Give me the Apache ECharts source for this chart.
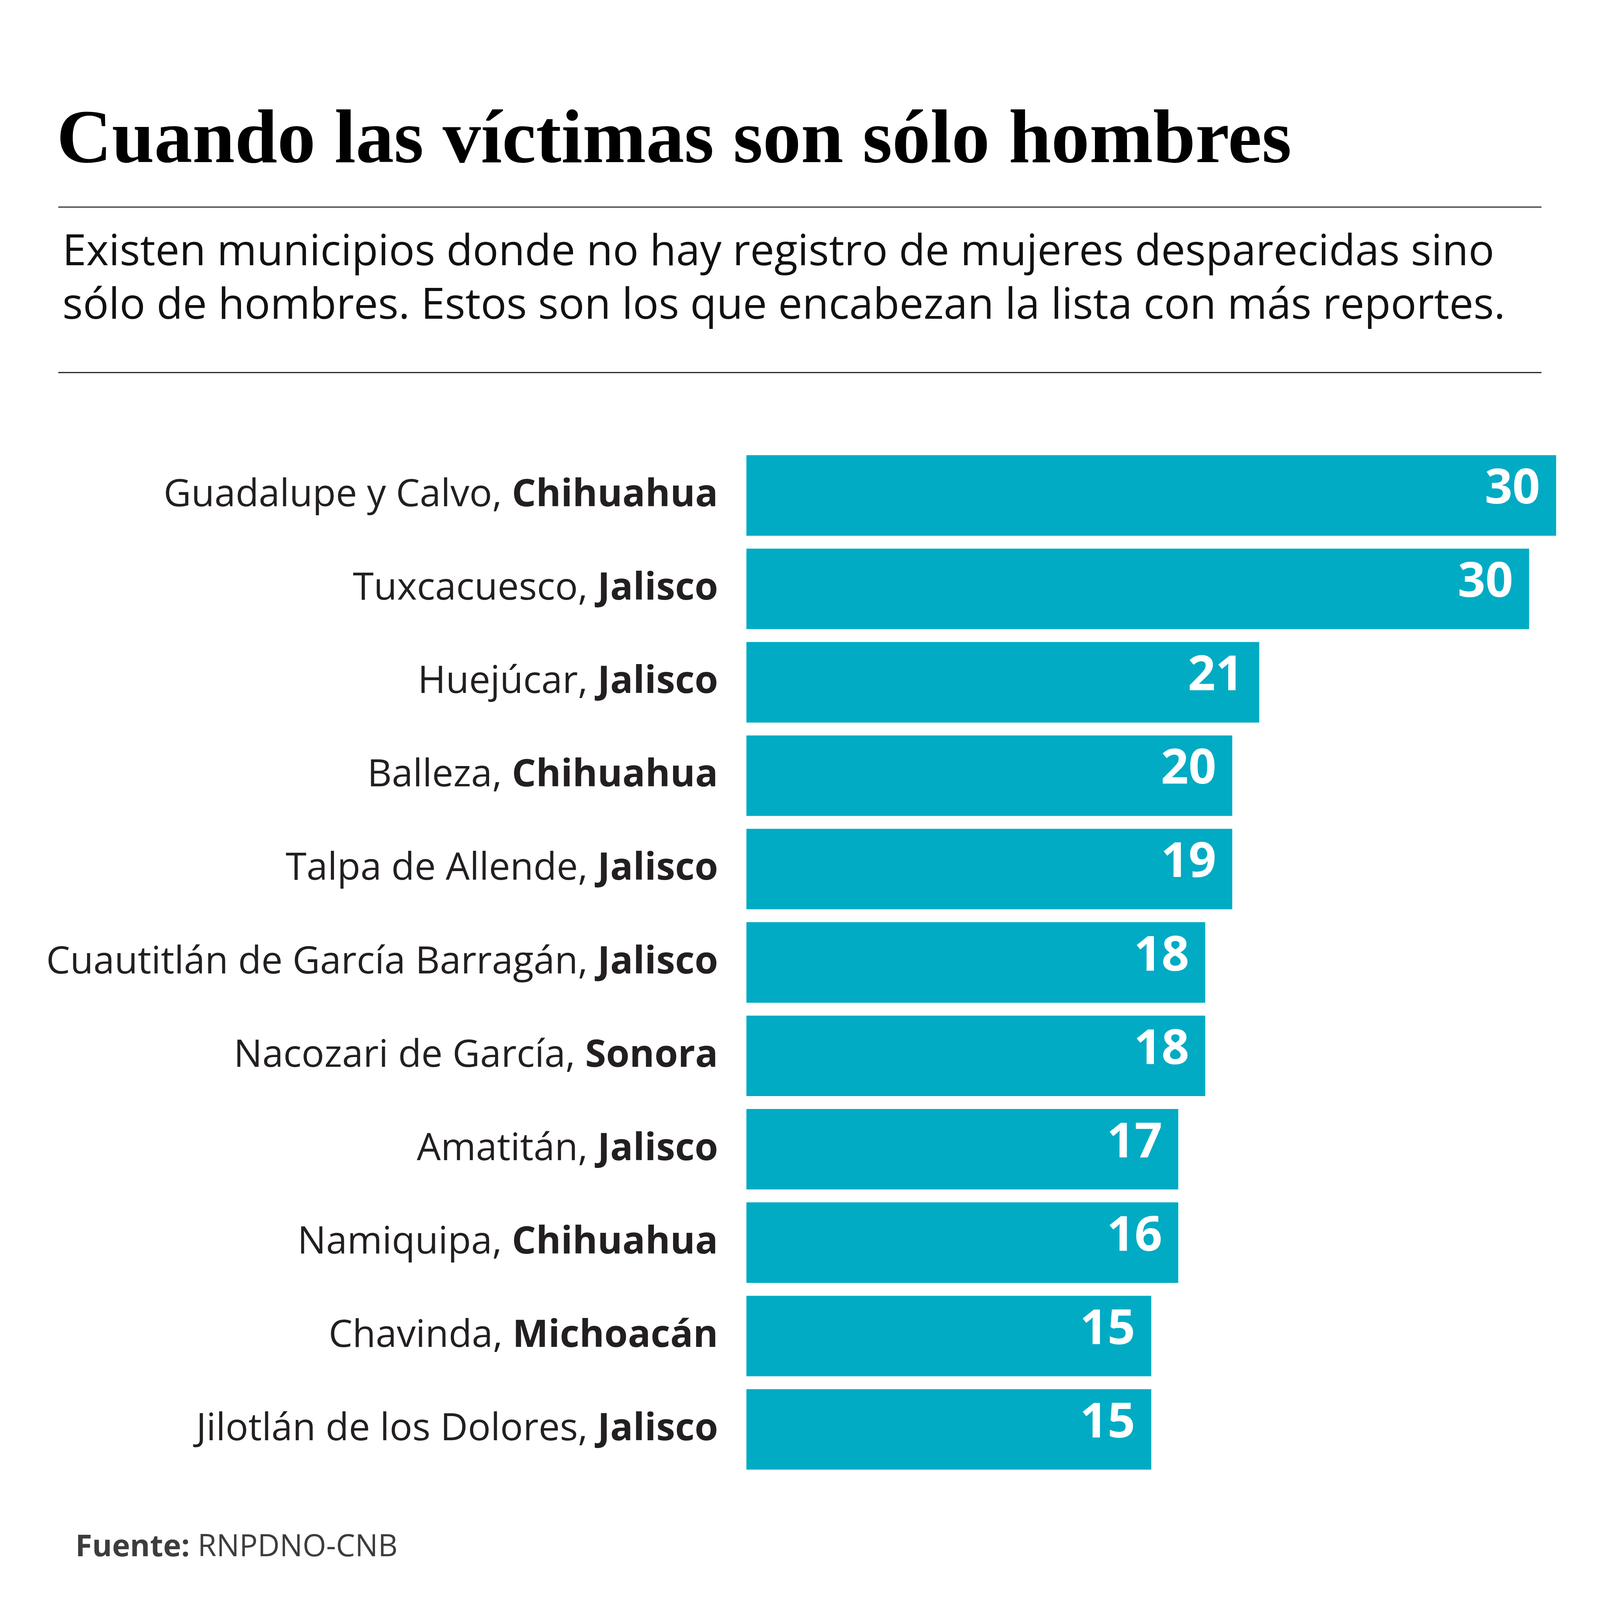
<!DOCTYPE html>
<html>
<head>
<meta charset="utf-8">
<script src="https://cdn.jsdelivr.net/npm/echarts@6/dist/echarts.min.js"></script>
<style>
  html, body { margin: 0; padding: 0; background: #fff; overflow: hidden; }
  #chart { width: 100vw; height: 100vh; }
</style>
</head>
<body>
<div id="chart"></div>
<script>
// municipios con registros sólo de hombres
var municipios = ['Guadalupe y Calvo', 'Tuxcacuesco', 'Huejúcar', 'Balleza', 'Talpa de Allende',
    'Cuautitlán de García Barragán', 'Nacozari de García', 'Amatitán', 'Namiquipa', 'Chavinda',
    'Jilotlán de los Dolores'];
var estados = ['Chihuahua', 'Jalisco', 'Jalisco', 'Chihuahua', 'Jalisco',
    'Jalisco', 'Sonora', 'Jalisco', 'Chihuahua', 'Michoacán', 'Jalisco'];
// cifras impresas en las barras
var reportes = [30, 30, 21, 20, 19, 18, 18, 17, 16, 15, 15];
// largo de barra tal como está dibujado en la gráfica
var largos = [30, 29, 19, 18, 18, 17, 17, 16, 16, 15, 15];

var titulo = 'Cuando las víctimas son sólo hombres';
var bajada = ['Existen municipios donde no hay registro de mujeres desparecidas sino',
    'sólo de hombres. Estos son los que encabezan la lista con más reportes.'];
var fuente = 'RNPDNO-CNB';

var chart = echarts.init(document.getElementById('chart'));

// todo se mide sobre un lienzo de 7001 px de ancho
function build() {
    var s = chart.getWidth() / 7001;
    var sy = chart.getHeight() / 7077;
    function px(v) { return v * s; }
    function py(v) { return v * sy; }

    var categorias = municipios.map(function (m, i) { return m + '|' + estados[i]; });

    var option = {
        backgroundColor: '#ffffff',
        animation: false,
        grid: {
            left: px(3266),
            right: px(192),
            top: py(1985),
            bottom: py(548),
            containLabel: false
        },
        xAxis: {
            type: 'value',
            min: 0,
            max: 30,
            show: false
        },
        yAxis: {
            type: 'category',
            inverse: true,
            data: categorias,
            axisLine: { show: false },
            axisTick: { show: false },
            splitLine: { show: false },
            axisLabel: {
                margin: px(124),
                formatter: function (v) {
                    var p = v.split('|');
                    return '{r|' + p[0] + ', }{b|' + p[1] + '}';
                },
                rich: {
                    r: { fontFamily: 'Open Sans', fontSize: px(166), color: '#231f20' },
                    b: { fontFamily: 'Open Sans', fontSize: px(166), fontWeight: 'bold', color: '#231f20' }
                }
            }
        },
        series: [
            {
                type: 'bar',
                data: largos,
                barCategoryGap: '13.8%',
                itemStyle: { color: '#01abc4' },
                label: {
                    show: true,
                    position: 'insideRight',
                    distance: px(70),
                    offset: [0, -px(25)],
                    formatter: function (p) { return reportes[p.dataIndex]; },
                    fontFamily: 'Open Sans',
                    fontWeight: 'bold',
                    fontSize: px(212),
                    color: '#ffffff'
                }
            }
        ],
        graphic: [
            {
                type: 'text', x: px(248), y: py(630),
                style: {
                    text: titulo,
                    fontFamily: 'Liberation Serif',
                    fontWeight: 'bold',
                    fontSize: px(334),
                    fill: '#000',
                    verticalAlign: 'middle'
                }
            },
            {
                type: 'line',
                shape: { x1: px(255), y1: py(916), x2: px(6745), y2: py(916) },
                style: { stroke: '#222', lineWidth: px(5) }
            },
            {
                type: 'text', x: px(273), y: py(1119),
                style: {
                    text: bajada[0],
                    fontFamily: 'Open Sans',
                    fontSize: px(188),
                    fill: '#111',
                    verticalAlign: 'middle'
                }
            },
            {
                type: 'text', x: px(273), y: py(1356),
                style: {
                    text: bajada[1],
                    fontFamily: 'Open Sans',
                    fontSize: px(188),
                    fill: '#111',
                    verticalAlign: 'middle'
                }
            },
            {
                type: 'line',
                shape: { x1: px(255), y1: py(1648), x2: px(6745), y2: py(1648) },
                style: { stroke: '#222', lineWidth: px(5) }
            },
            {
                type: 'text', x: px(330), y: py(6846),
                style: {
                    text: '{b|Fuente: }{r|' + fuente + '}',
                    verticalAlign: 'middle',
                    rich: {
                        b: { fontFamily: 'Open Sans', fontWeight: 'bold', fontSize: px(133), fill: '#3d3d3d' },
                        r: { fontFamily: 'Open Sans', fontSize: px(133), fill: '#3d3d3d' }
                    }
                }
            }
        ]
    };
    chart.setOption(option, true);
}

build();

window.onresize = function () {
    chart.resize();
    build();
};
</script>
</body>
</html>
